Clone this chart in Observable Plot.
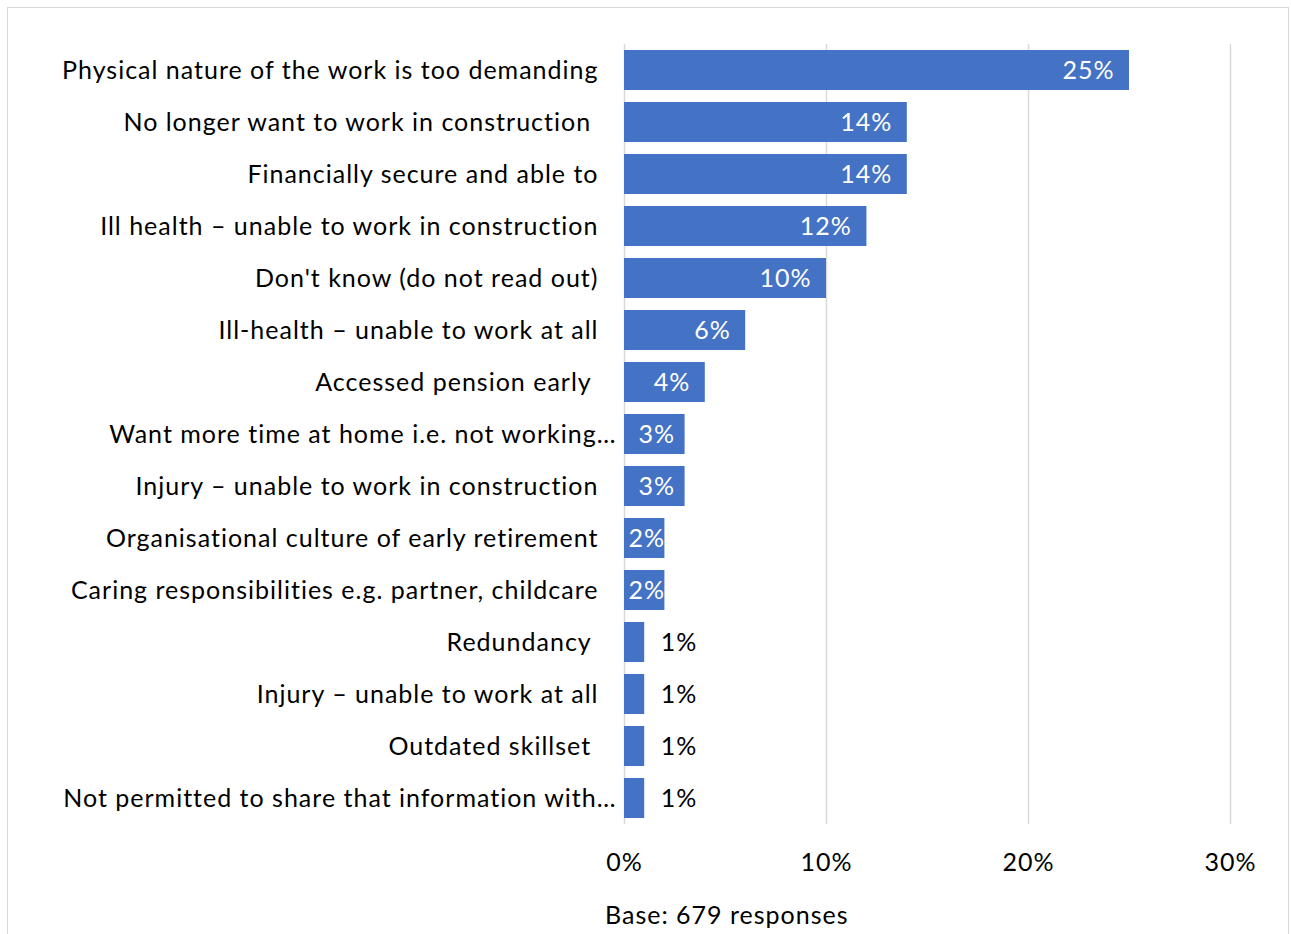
<!DOCTYPE html>
<html>
<head>
<meta charset="utf-8">
<script src="https://cdn.jsdelivr.net/npm/d3@7"></script>
<script src="https://cdn.jsdelivr.net/npm/@observablehq/plot@0.6"></script>
<style>
  html, body { margin: 0; padding: 0; background: #fff; }
  #frame {
    position: absolute; left: 7px; top: 7px; width: 1282px; height: 960px;
    border: 1.5px solid #d9d9d9; box-sizing: border-box; background: #fff;
  }
  #chart { position: absolute; left: 0; top: 0; }
  #chart svg text { white-space: pre; letter-spacing: 1px; }
  #caption {
    position: absolute; left: 597px; top: 892px;
    font-family: Lato, "Open Sans", sans-serif; font-size: 25px; color: #000;
    letter-spacing: 1px; line-height: 28px; white-space: nowrap;
  }
</style>
</head>
<body>
<div id="frame">
  <div id="chart"></div>
  <div id="caption"></div>
</div>
<script>
const categories = [
  "Physical nature of the work is too demanding",
  "No longer want to work in construction ",
  "Financially secure and able to",
  "Ill health \u2013 unable to work in construction",
  "Don't know (do not read out)",
  "Ill-health \u2013 unable to work at all",
  "Accessed pension early ",
  "Want more time at home i.e. not working\u2026",
  "Injury \u2013 unable to work in construction",
  "Organisational culture of early retirement",
  "Caring responsibilities e.g. partner, childcare",
  "Redundancy ",
  "Injury \u2013 unable to work at all",
  "Outdated skillset ",
  "Not permitted to share that information with\u2026"
];
const values = [25, 14, 14, 12, 10, 6, 4, 3, 3, 2, 2, 1, 1, 1, 1];
const xTicks = [0, 10, 20, 30];
const xTickLabels = ["0%", "10%", "20%", "30%"];
const captionText = "Base: 679 responses";

const data = categories.map((c, i) => ({category: c, value: values[i]}));
const fmt = d => d.value + "%";
const truncated = categories.filter(c => c.endsWith("\u2026"));
const full = categories.filter(c => !c.endsWith("\u2026"));

const font = 'Lato, "Open Sans", sans-serif';
const fs = 25;

const chart = Plot.plot({
  width: 1280,
  height: 870,
  marginLeft: 616,
  marginRight: 58,
  marginTop: 36,
  marginBottom: 54,
  style: {fontFamily: font, fontSize: fs + "px", color: "#000", background: "transparent"},
  x: {domain: [0, 30]},
  y: {domain: categories, paddingInner: 0.23, paddingOuter: 0.115},
  marks: [
    Plot.gridX(xTicks, {stroke: "#d9d9d9", strokeOpacity: 1, strokeWidth: 1.5}),
    Plot.barX(data, {x: "value", y: "category", fill: "#4472C4"}),
    Plot.text(data.filter(d => d.value >= 4), {x: "value", y: "category", text: fmt, textAnchor: "end", dx: -15, fill: "white", fontSize: fs}),
    Plot.text(data.filter(d => d.value >= 2 && d.value < 4), {x: d => d.value / 2, y: "category", text: fmt, textAnchor: "middle", dx: 2, fill: "white", fontSize: fs}),
    Plot.text(data.filter(d => d.value < 2), {x: "value", y: "category", text: fmt, textAnchor: "start", dx: 16, fill: "#000", fontSize: fs}),
    Plot.axisY(full, {tickSize: 0, tickPadding: 26, fontSize: fs, fill: "#000", label: null}),
    Plot.axisY(truncated, {tickSize: 0, tickPadding: 8, fontSize: fs, fill: "#000", label: null}),
    Plot.axisX(xTicks, {tickSize: 0, tickPadding: 29, fontSize: fs, fill: "#000", label: null,
      tickFormat: d => xTickLabels[xTicks.indexOf(d)]})
  ]
});
document.getElementById("chart").appendChild(chart);
document.getElementById("caption").textContent = captionText;
</script>
</body>
</html>
